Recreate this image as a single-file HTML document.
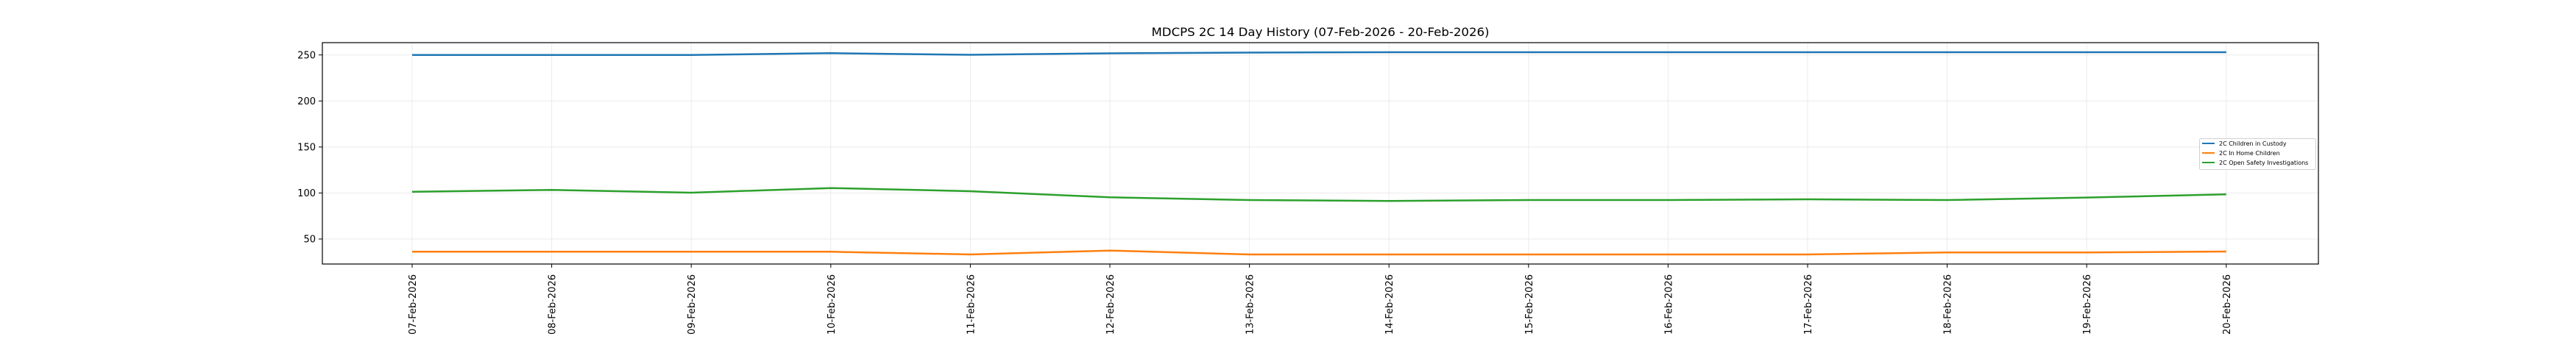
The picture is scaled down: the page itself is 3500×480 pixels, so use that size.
<!DOCTYPE html>
<html><head><meta charset="utf-8"><style>
html,body{margin:0;padding:0;background:#fff;}
svg{display:block;}
text{font-family:"DejaVu Sans","Liberation Sans",sans-serif;fill:#000;}
</style></head><body>
<svg width="3500" height="480" xmlns="http://www.w3.org/2000/svg">
<rect width="3500" height="480" fill="#fff"/>
<text x="1794" y="49" font-size="16" text-anchor="middle" textLength="459" lengthAdjust="spacingAndGlyphs">MDCPS 2C 14 Day History (07-Feb-2026 - 20-Feb-2026)</text>
<g stroke="#ebebeb" stroke-width="1">
<line x1="438" x2="3150" y1="74.7" y2="74.7"/><line x1="438" x2="3150" y1="137.3" y2="137.3"/><line x1="438" x2="3150" y1="199.9" y2="199.9"/><line x1="438" x2="3150" y1="262.4" y2="262.4"/><line x1="438" x2="3150" y1="325" y2="325"/>
<line x1="560" x2="560" y1="58" y2="359"/><line x1="749.6" x2="749.6" y1="58" y2="359"/><line x1="939.2" x2="939.2" y1="58" y2="359"/><line x1="1128.8" x2="1128.8" y1="58" y2="359"/><line x1="1318.4" x2="1318.4" y1="58" y2="359"/><line x1="1508" x2="1508" y1="58" y2="359"/><line x1="1697.6" x2="1697.6" y1="58" y2="359"/><line x1="1887.2" x2="1887.2" y1="58" y2="359"/><line x1="2076.8" x2="2076.8" y1="58" y2="359"/><line x1="2266.4" x2="2266.4" y1="58" y2="359"/><line x1="2456" x2="2456" y1="58" y2="359"/><line x1="2645.6" x2="2645.6" y1="58" y2="359"/><line x1="2835.2" x2="2835.2" y1="58" y2="359"/><line x1="3024.8" x2="3024.8" y1="58" y2="359"/>
</g>
<g fill="none" stroke-width="2.5" stroke-linejoin="round">
<polyline stroke="#1f77b4" points="560,74.7 749.6,74.7 939.2,74.7 1128.8,72.3 1318.4,74.5 1508,72.5 1697.6,71.5 1887.2,71 2076.8,71 2266.4,71 2456,71 2645.6,71 2835.2,71 3024.8,71"/>
<polyline stroke="#ff7f0e" points="560,342.3 749.6,342.3 939.2,342.3 1128.8,342.3 1318.4,346 1508,340.7 1697.6,346 1887.2,346 2076.8,346 2266.4,346 2456,346 2645.6,343.3 2835.2,343.3 3024.8,342"/>
<polyline stroke="#2ca02c" points="560,260.7 749.6,258.3 939.2,262 1128.8,255.7 1318.4,260 1508,268.3 1697.6,272 1887.2,273.3 2076.8,272 2266.4,272 2456,271 2645.6,272 2835.2,268.6 3024.8,264.3"/>
</g>
<rect x="438" y="58" width="2712" height="301" fill="none" stroke="#000" stroke-width="1.2"/>
<g stroke="#000" stroke-width="1">
<line x1="433" x2="438" y1="74.7" y2="74.7"/><line x1="433" x2="438" y1="137.3" y2="137.3"/><line x1="433" x2="438" y1="199.9" y2="199.9"/><line x1="433" x2="438" y1="262.4" y2="262.4"/><line x1="433" x2="438" y1="325" y2="325"/>
</g>
<g font-size="13" text-anchor="end">
<text x="429" y="79.5">250</text><text x="429" y="142">200</text><text x="429" y="204.6">150</text><text x="429" y="267">100</text><text x="429" y="329.7">50</text>
</g>
<g font-size="13" text-anchor="end">
<text transform="translate(565,373) rotate(-90)">07-Feb-2026</text>
<text transform="translate(754.6,373) rotate(-90)">08-Feb-2026</text>
<text transform="translate(944.2,373) rotate(-90)">09-Feb-2026</text>
<text transform="translate(1133.8,373) rotate(-90)">10-Feb-2026</text>
<text transform="translate(1323.4,373) rotate(-90)">11-Feb-2026</text>
<text transform="translate(1513,373) rotate(-90)">12-Feb-2026</text>
<text transform="translate(1702.6,373) rotate(-90)">13-Feb-2026</text>
<text transform="translate(1892.2,373) rotate(-90)">14-Feb-2026</text>
<text transform="translate(2081.8,373) rotate(-90)">15-Feb-2026</text>
<text transform="translate(2271.4,373) rotate(-90)">16-Feb-2026</text>
<text transform="translate(2461,373) rotate(-90)">17-Feb-2026</text>
<text transform="translate(2650.6,373) rotate(-90)">18-Feb-2026</text>
<text transform="translate(2840.2,373) rotate(-90)">19-Feb-2026</text>
<text transform="translate(3029.8,373) rotate(-90)">20-Feb-2026</text>
</g>
<g stroke="#000" stroke-width="1">
<line x1="560" x2="560" y1="359" y2="364"/><line x1="749.6" x2="749.6" y1="359" y2="364"/><line x1="939.2" x2="939.2" y1="359" y2="364"/><line x1="1128.8" x2="1128.8" y1="359" y2="364"/><line x1="1318.4" x2="1318.4" y1="359" y2="364"/><line x1="1508" x2="1508" y1="359" y2="364"/><line x1="1697.6" x2="1697.6" y1="359" y2="364"/><line x1="1887.2" x2="1887.2" y1="359" y2="364"/><line x1="2076.8" x2="2076.8" y1="359" y2="364"/><line x1="2266.4" x2="2266.4" y1="359" y2="364"/><line x1="2456" x2="2456" y1="359" y2="364"/><line x1="2645.6" x2="2645.6" y1="359" y2="364"/><line x1="2835.2" x2="2835.2" y1="359" y2="364"/><line x1="3024.8" x2="3024.8" y1="359" y2="364"/>
</g>
<rect x="2988.5" y="188.5" width="158" height="42" rx="2" fill="#fff" fill-opacity="0.85" stroke="#d0d0d0" stroke-width="1"/>
<g stroke-width="2"><line x1="2992" x2="3009" y1="195" y2="195" stroke="#1f77b4"/><line x1="2992" x2="3009" y1="208" y2="208" stroke="#ff7f0e"/><line x1="2992" x2="3009" y1="221" y2="221" stroke="#2ca02c"/></g>
<g font-size="8" fill="#222"><text x="3015" y="198">2C Children in Custody</text><text x="3015" y="211">2C In Home Children</text><text x="3015" y="224">2C Open Safety Investigations</text></g>
</svg>
</body></html>
